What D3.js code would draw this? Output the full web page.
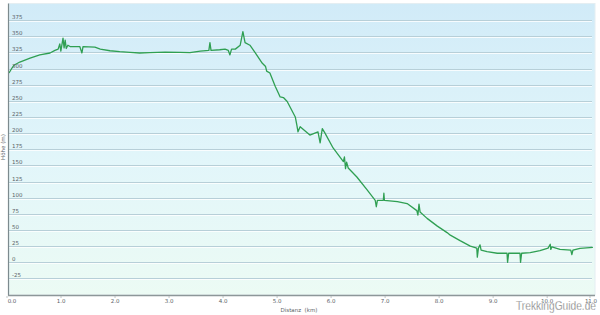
<!DOCTYPE html>
<html>
<head>
<meta charset="utf-8">
<script src="https://cdn.jsdelivr.net/npm/d3@7"></script>
<style>
  html, body { margin: 0; padding: 0; background: #fff; }
  svg { display: block; }
</style>
</head>
<body>
<script>
// elevation profile
const distKm = [0.00, 0.05, 0.09, 0.20, 0.39, 0.57, 0.76, 0.85, 0.91, 0.94, 0.96, 1.00, 1.02, 1.04, 1.06, 1.09,
  1.13, 1.31, 1.35, 1.37, 1.59, 1.69, 1.87, 2.05, 2.24, 2.42, 2.61, 2.89, 3.17, 3.35, 3.54, 3.70, 3.72, 3.74, 3.90, 4.00,
  4.06, 4.09, 4.12, 4.19, 4.28, 4.33, 4.37, 4.46, 4.56, 4.69, 4.75, 4.77, 4.83, 4.93, 5.02, 5.08, 5.15, 5.30, 5.33, 5.35,
  5.39, 5.57, 5.72, 5.76, 5.80, 5.85, 6.00, 6.19, 6.21, 6.23, 6.25, 6.28, 6.44, 6.63, 6.78, 6.80, 6.82, 6.93, 6.94, 6.95, 7.19, 7.37, 7.55, 7.57, 7.59, 7.61,
  7.74, 7.93, 8.11, 8.17, 8.35, 8.54, 8.66, 8.67, 8.69, 8.72, 8.74, 8.85, 9.04, 9.22, 9.23, 9.25, 9.46, 9.47,
  9.49, 9.65, 9.83, 9.98, 10.02, 10.03, 10.05, 10.20, 10.40, 10.42, 10.44, 10.57, 10.81];
const elevM = [293, 300, 305, 310, 316, 321, 324, 328, 330, 338, 327, 347, 332, 344, 331, 336,
  334, 334, 324, 334, 333, 330, 327.5, 326, 325, 324, 324.5, 325.5, 325, 324.5, 327, 328, 340, 328, 329, 330,
  328, 321, 330, 330, 336, 357, 340, 336, 324, 308, 303, 296, 293, 272, 256, 255, 249, 225, 212, 202,
  210, 197, 202, 185, 207, 200, 177, 156, 163, 145, 155, 146, 132, 112, 96, 86, 96, 96, 107, 96, 94, 91, 80, 73, 90, 78,
  68, 56, 46, 42, 33.5, 25, 22, 8, 21.6, 27, 19, 16.4, 14, 14, 0, 14, 14, 0,
  14, 15, 18, 22, 28, 20, 24, 20, 19, 12, 19, 21.6, 23];

const yTicks = d3.range(-25, 376, 25);
const xTicks = d3.range(0, 12, 1);
const xTitle = "Distanz  (km)";
const yTitle = "Höhe (m)";
const brand = "TrekkingGuide.de";

const width = 600, height = 315;

const x = d3.scaleLinear().domain([0, 10.83]).range([9, 594]);
const y = d3.scaleLinear().domain([-50, 400]).range([294.6, 3.9]);

const svg = d3.select("body").append("svg")
    .attr("width", width)
    .attr("height", height)
    .attr("font-family", "Verdana, 'DejaVu Sans', sans-serif");

const grad = svg.append("defs").append("linearGradient")
    .attr("id", "bg")
    .attr("x1", 0).attr("y1", 0).attr("x2", 0).attr("y2", 1);
grad.append("stop").attr("offset", "0%").attr("stop-color", "#d1ebf8");
grad.append("stop").attr("offset", "55%").attr("stop-color", "#e2f6fa");
grad.append("stop").attr("offset", "100%").attr("stop-color", "#ecfbf4");

svg.append("rect")
    .attr("x", 9).attr("y", 3.5)
    .attr("width", 586).attr("height", 291.5)
    .attr("fill", "url(#bg)")
    .attr("stroke", "#e4eef2")
    .attr("stroke-width", 1);

// grid lines (dark line with a light one under it)
const grid = svg.append("g");
grid.selectAll("line.d")
  .data(yTicks)
  .join("line")
    .attr("class", "d")
    .attr("x1", 9).attr("x2", 592)
    .attr("y1", d => Math.round(y(d)) + 0.5)
    .attr("y2", d => Math.round(y(d)) + 0.5)
    .attr("stroke", "#b7cfd8")
    .attr("stroke-width", 1);
grid.selectAll("line.l")
  .data(yTicks)
  .join("line")
    .attr("class", "l")
    .attr("x1", 9).attr("x2", 592)
    .attr("y1", d => Math.round(y(d)) + 1.5)
    .attr("y2", d => Math.round(y(d)) + 1.5)
    .attr("stroke", "#ffffff")
    .attr("stroke-opacity", 0.8)
    .attr("stroke-width", 1);

// profile line
const line = d3.line()
    .x((d, i) => x(distKm[i]))
    .y(d => y(d));

svg.append("path")
    .datum(elevM)
    .attr("fill", "none")
    .attr("stroke", "#2f9f52")
    .attr("stroke-width", 1.3)
    .attr("stroke-linejoin", "round")
    .attr("d", line);

// axes
svg.append("line")
    .attr("x1", 8.5).attr("x2", 8.5)
    .attr("y1", 3.5).attr("y2", 295.5)
    .attr("stroke", "#7c8a8e")
    .attr("stroke-width", 1.2);
svg.append("line")
    .attr("x1", 8).attr("x2", 595)
    .attr("y1", 295.5).attr("y2", 295.5)
    .attr("stroke", "#8d9799")
    .attr("stroke-width", 1.4);

svg.append("g")
    .attr("font-size", 5.5)
    .attr("fill", "#5a6266")
  .selectAll("text")
  .data(yTicks)
  .join("text")
    .attr("x", 12)
    .attr("y", d => Math.round(y(d)) - 1.5)
    .text(d => d);

const xl = svg.append("g")
    .attr("font-size", 5.5)
    .attr("fill", "#5a6266")
    .attr("text-anchor", "middle");
xl.selectAll("line")
  .data(xTicks)
  .join("line")
    .attr("x1", d => Math.min(x(d) - 2, 590))
    .attr("x2", d => Math.min(x(d) - 2, 590))
    .attr("y1", 296).attr("y2", 298)
    .attr("stroke", "#b0b6b8")
    .attr("stroke-width", 0.8);
xl.selectAll("text")
  .data(xTicks)
  .join("text")
    .attr("x", d => d === 0 ? 12 : Math.min(x(d) - 2, 591))
    .attr("y", 302.5)
    .text(d => d.toFixed(1));

svg.append("text")
    .attr("x", 299)
    .attr("y", 312)
    .attr("text-anchor", "middle")
    .attr("font-size", 5.5)
    .attr("fill", "#5a6266")
    .attr("xml:space", "preserve")
    .text(xTitle);

svg.append("text")
    .attr("transform", "translate(4.5,147) rotate(-90)")
    .attr("text-anchor", "middle")
    .attr("font-size", 5.5)
    .attr("fill", "#5a6266")
    .text(yTitle);

svg.append("text")
    .attr("x", 516)
    .attr("y", 310)
    .attr("textLength", 80)
    .attr("lengthAdjust", "spacingAndGlyphs")
    .attr("font-family", "'Liberation Sans Narrow', 'Arial Narrow', 'Liberation Sans', sans-serif")
    .attr("font-size", 12)
    .attr("fill", "#6e6e6e")
    .attr("stroke", "#ffffff")
    .attr("stroke-width", 0.3)
    .text(brand);
</script>
</body>
</html>
